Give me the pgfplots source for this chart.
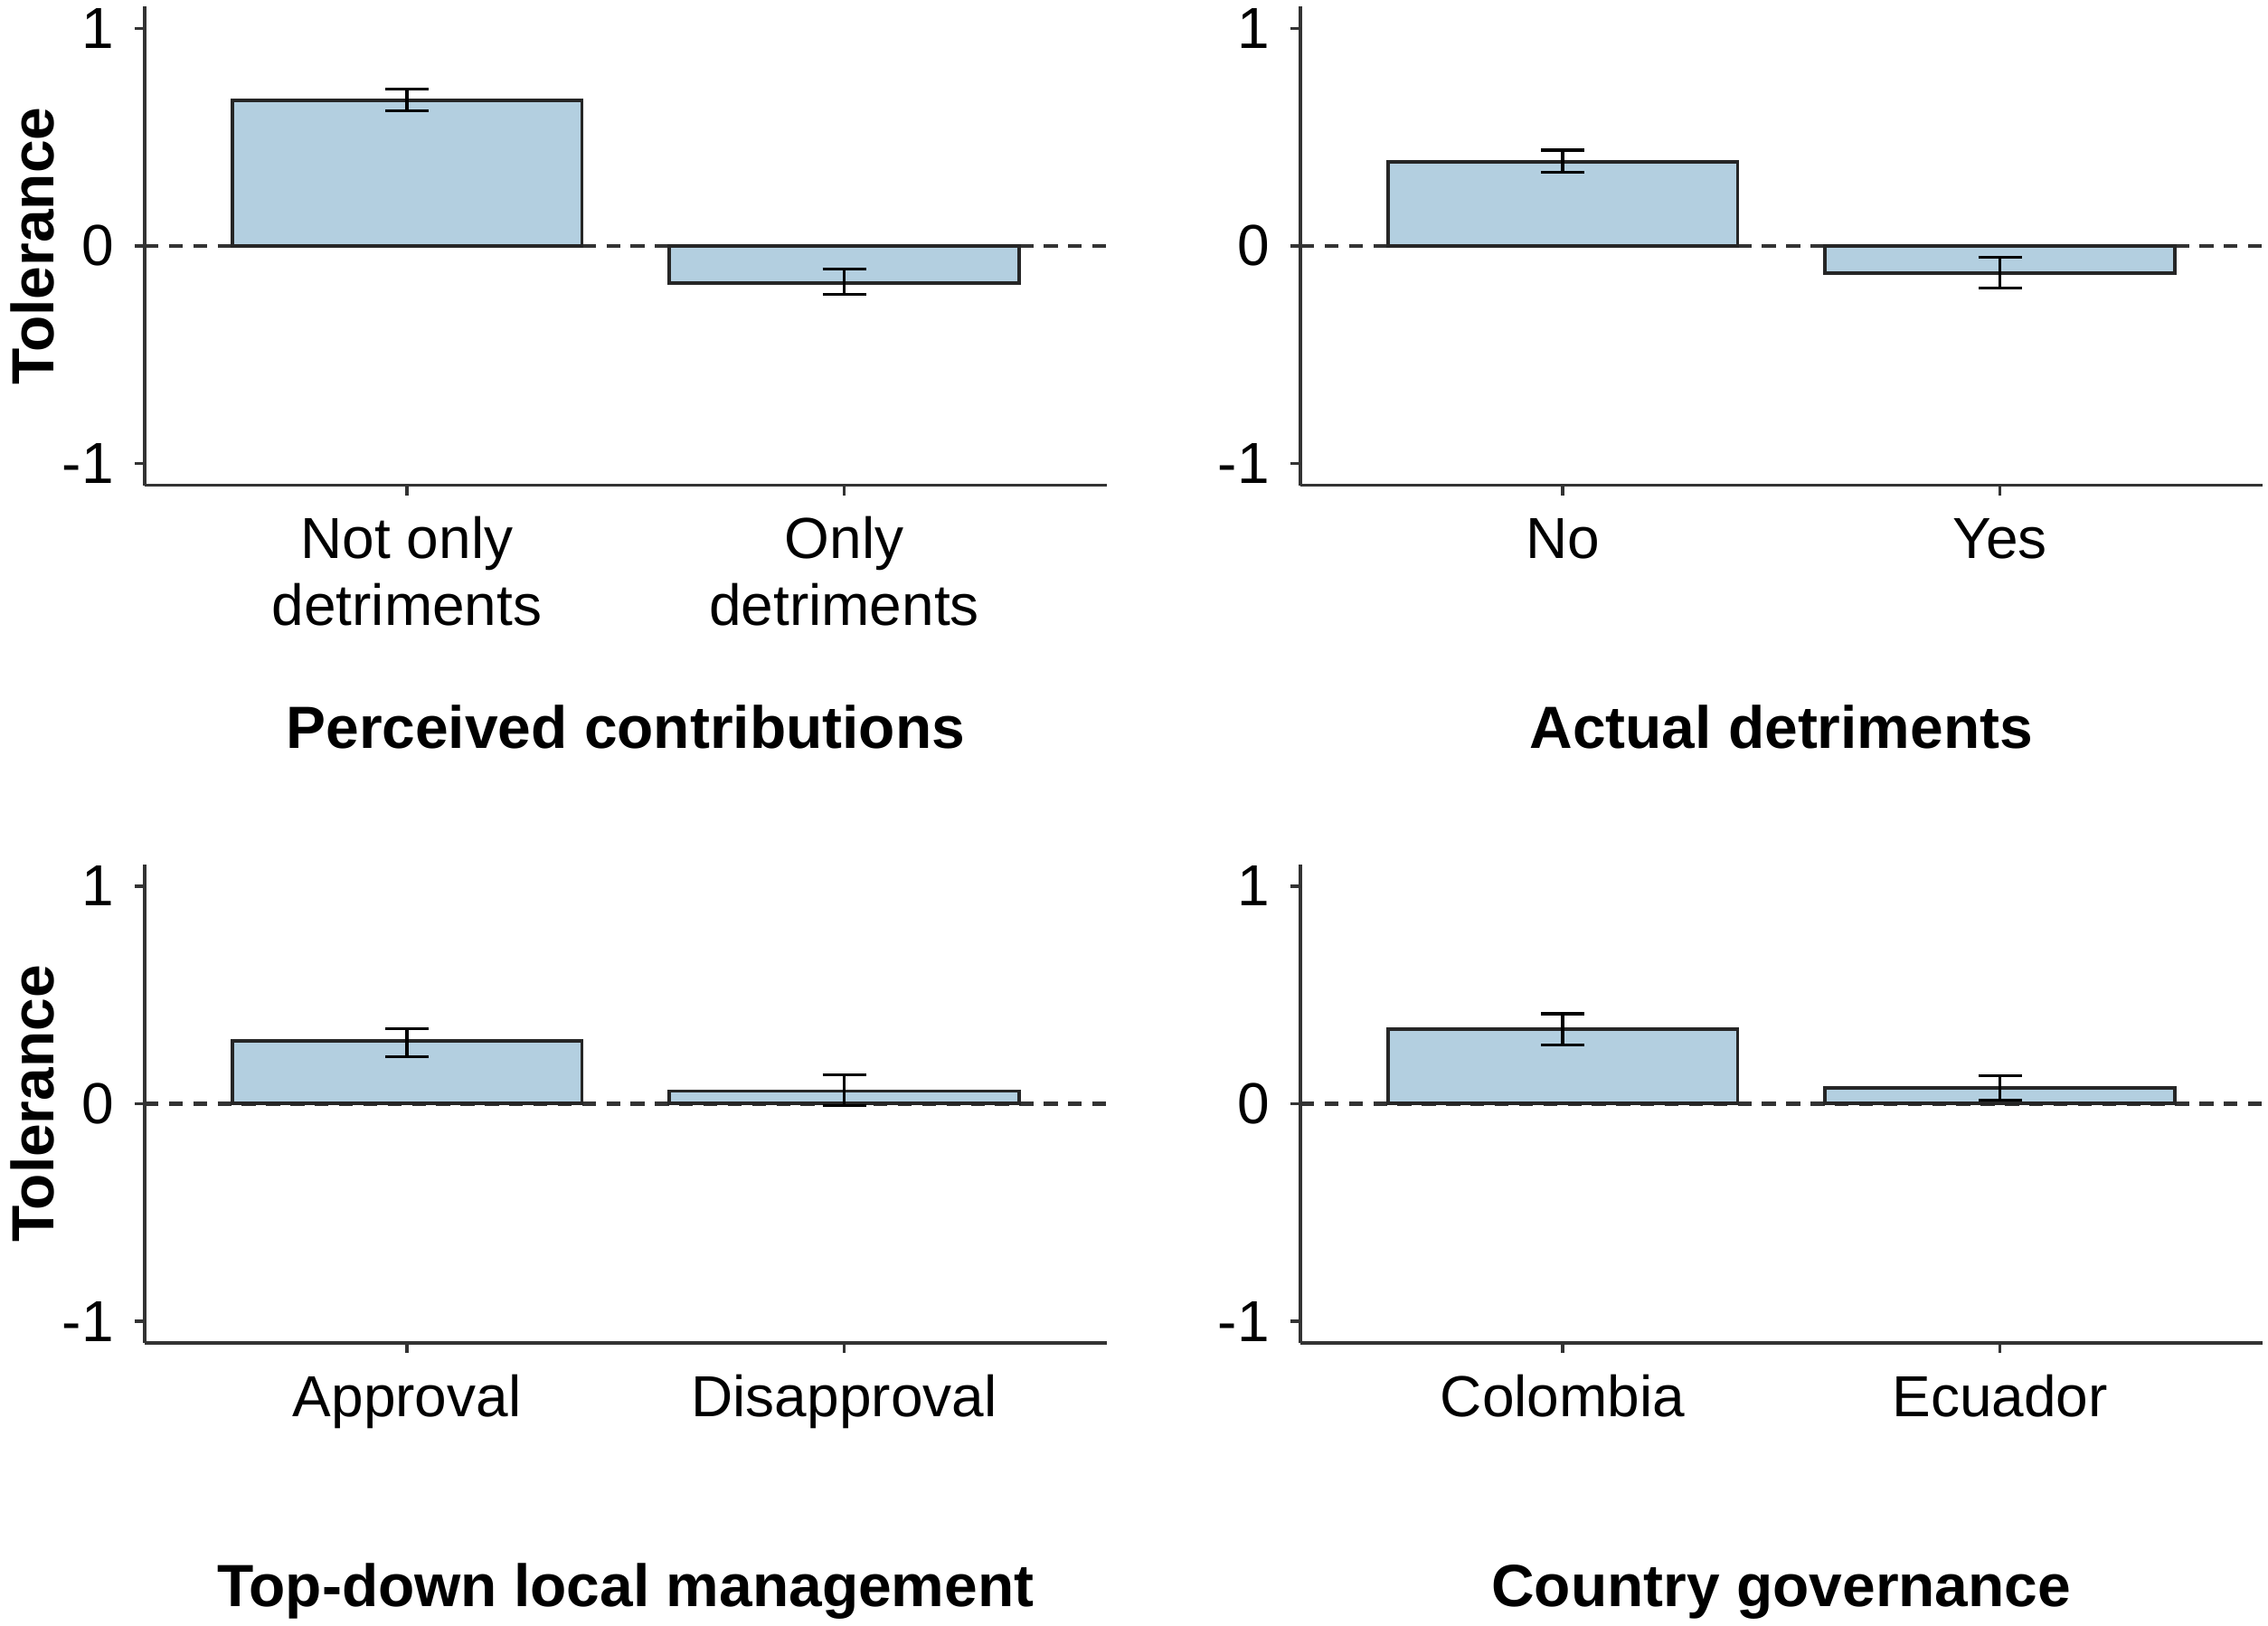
\documentclass[border=0pt]{standalone}
\usepackage{fontspec}
\setmainfont{Liberation Sans}
\usepackage{pgfplots}
\pgfplotsset{compat=1.18}
\definecolor{barfill}{RGB}{179,207,224}
\definecolor{axgray}{RGB}{51,51,51}
\pgfplotsset{
  panel/.style={
    scale only axis, width=166.25pt, height=82.75pt,
    anchor=south west,
    xmin=0.4, xmax=2.6, ymin=-1.1, ymax=1.1,
    axis x line*=bottom, axis y line*=left,
    axis line style={axgray, line width=0.55pt, -},
    tick align=outside, major tick length=1.75pt,
    tick style={axgray, line width=0.55pt},
    xtick={1,2}, ytick={-1,0,1}, yticklabels={-1,0,1},
    ticklabel style={font=\fontsize{10}{11.5}\selectfont, text=black},
    xticklabel style={align=center, anchor=base, inner sep=0pt, yshift=-10.9pt},
    yticklabel style={anchor=east, inner sep=0pt, xshift=-3.4pt},
    xlabel style={font=\bfseries\fontsize{10.3}{12}\selectfont, at={(axis description cs:0.5,0)}, anchor=base, yshift=-45.5pt, inner sep=0pt},
    ylabel style={font=\bfseries\fontsize{10.3}{12}\selectfont, at={(axis description cs:-0.094,0.5)}, anchor=base, inner sep=0pt},
    clip=false,
  },
  zeroline/.style={axgray, line width=0.7pt, dash pattern=on 2.4pt off 1.8pt, forget plot},
  bars/.style={ybar, bar width=0.8, bar shift=0pt, fill=barfill, draw=black!85, line width=0.6pt,
    error bars/.cd, y dir=both, y explicit,
    error bar style={black, line width=0.5pt},
    error mark options={black, line width=0.5pt, mark size=3.75pt, rotate=90}},
}
\begin{document}
\begin{tikzpicture}
\path[use as bounding box] (0,0) rectangle (392pt,-281pt);

% Top-left
\begin{axis}[panel, at={(25pt,-83.875pt)},
  xticklabel style={yshift=-11.5pt},
  xticklabels={Not only\\detriments, Only\\detriments},
  xlabel={Perceived contributions}, ylabel={Tolerance}]
\addplot[zeroline] coordinates {(0.4,0) (2.6,0)};
\addplot[bars] coordinates {
  (1,0.668) += (0,0.054) -= (0,0.046)
  (2,-0.170) += (0,0.063) -= (0,0.052)
};
\end{axis}

% Top-right
\begin{axis}[panel, at={(224.75pt,-83.875pt)},
  xticklabels={No, Yes},
  xlabel={Actual detriments}]
\addplot[zeroline] coordinates {(0.4,0) (2.6,0)};
\addplot[bars] coordinates {
  (1,0.385) += (0,0.055) -= (0,0.045)
  (2,-0.125) += (0,0.072) -= (0,0.070)
};
\end{axis}

% Bottom-left
\begin{axis}[panel, at={(25pt,-232.125pt)},
  xticklabels={Approval, Disapproval},
  xlabel={Top-down local management}, ylabel={Tolerance}]
\addplot[zeroline] coordinates {(0.4,0) (2.6,0)};
\addplot[bars] coordinates {
  (1,0.287) += (0,0.057) -= (0,0.072)
  (2,0.058) += (0,0.075) -= (0,0.065)
};
\end{axis}

% Bottom-right
\begin{axis}[panel, at={(224.75pt,-232.125pt)},
  xticklabels={Colombia, Ecuador},
  xlabel={Country governance}]
\addplot[zeroline] coordinates {(0.4,0) (2.6,0)};
\addplot[bars] coordinates {
  (1,0.344) += (0,0.069) -= (0,0.074)
  (2,0.074) += (0,0.054) -= (0,0.057)
};
\end{axis}
\end{tikzpicture}
\end{document}
